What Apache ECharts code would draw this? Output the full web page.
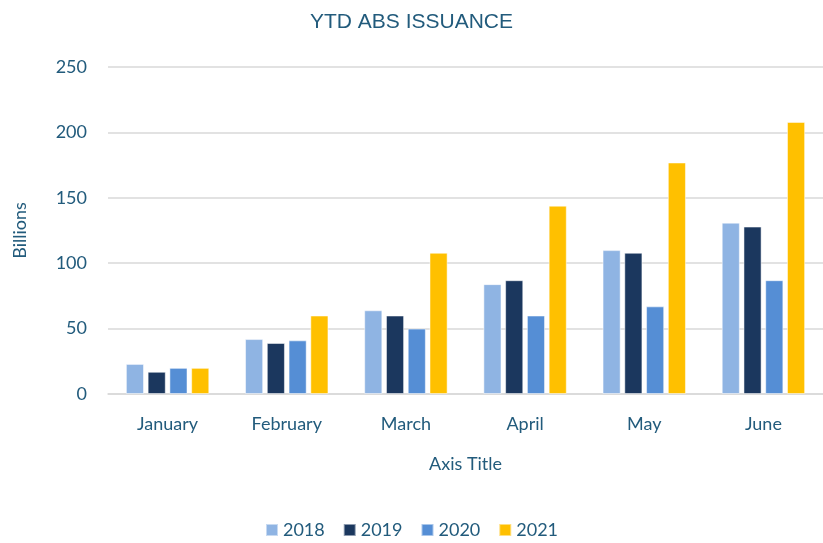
<!DOCTYPE html>
<html>
<head>
<meta charset="utf-8">
<script src="https://cdn.jsdelivr.net/npm/echarts@6/dist/echarts.min.js"></script>
<style>
  html, body { margin: 0; padding: 0; background: #fff; }
  #chart { width: 823px; height: 543px; }
</style>
</head>
<body>
<div id="chart"></div>
<script>
const months = ['January', 'February', 'March', 'April', 'May', 'June']
const years = ['2018', '2019', '2020', '2021']
const colors = ['#8FB4E3', '#1B375E', '#558ED5', '#FFC000']
const v2018 = [23, 42, 64, 84, 110, 131]
const v2019 = [17, 39, 60, 87, 108, 128]
const v2020 = [20, 41, 50, 60, 67, 87]
const v2021 = [20, 60, 108, 144, 177, 208]
const yTicks = [0, 50, 100, 150, 200, 250]

const values = [v2018, v2019, v2020, v2021]
const textColor = '#225B7C'
const font = 'Lato'

const chart = echarts.init(document.getElementById('chart'))
chart.setOption({
  animation: false,
  title: {
    text: 'YTD ABS ISSUANCE',
    left: 'center',
    top: 7,
    textStyle: { color: textColor, fontSize: 21, fontWeight: 'normal', fontFamily: 'Liberation Sans' }
  },
  legend: {
    bottom: -1,
    left: 'center',
    itemWidth: 12,
    itemHeight: 12,
    itemGap: 18,
    icon: 'rect',
    textStyle: { color: textColor, fontSize: 18, fontFamily: font }
  },
  grid: { left: 108, right: 0, top: 67, bottom: 149 },
  xAxis: {
    type: 'category',
    data: months,
    name: 'Axis Title',
    nameLocation: 'middle',
    nameGap: 61,
    nameTextStyle: { color: textColor, fontSize: 18, fontFamily: font },
    axisLine: { lineStyle: { color: '#D9D9D9', width: 1.5 } },
    axisTick: { show: false },
    axisLabel: { color: textColor, fontSize: 18, fontFamily: font, margin: 21 }
  },
  yAxis: {
    type: 'value',
    min: yTicks[0],
    max: yTicks[yTicks.length - 1],
    interval: 50,
    name: 'Billions',
    nameLocation: 'middle',
    nameGap: 79,
    nameTextStyle: { color: textColor, fontSize: 18, fontFamily: font },
    axisLine: { show: false },
    axisTick: { show: false },
    axisLabel: { color: textColor, fontSize: 18, fontFamily: font, margin: 21 },
    splitLine: { lineStyle: { color: '#D9D9D9', width: 1.5 } }
  },
  series: years.map((y, i) => ({
    name: y,
    type: 'bar',
    data: values[i],
    barGap: '20%',
    barCategoryGap: '30%',
    itemStyle: { color: colors[i], borderColor: 'rgba(255,255,255,0.5)', borderWidth: 1 }
  }))
})
</script>
</body>
</html>
